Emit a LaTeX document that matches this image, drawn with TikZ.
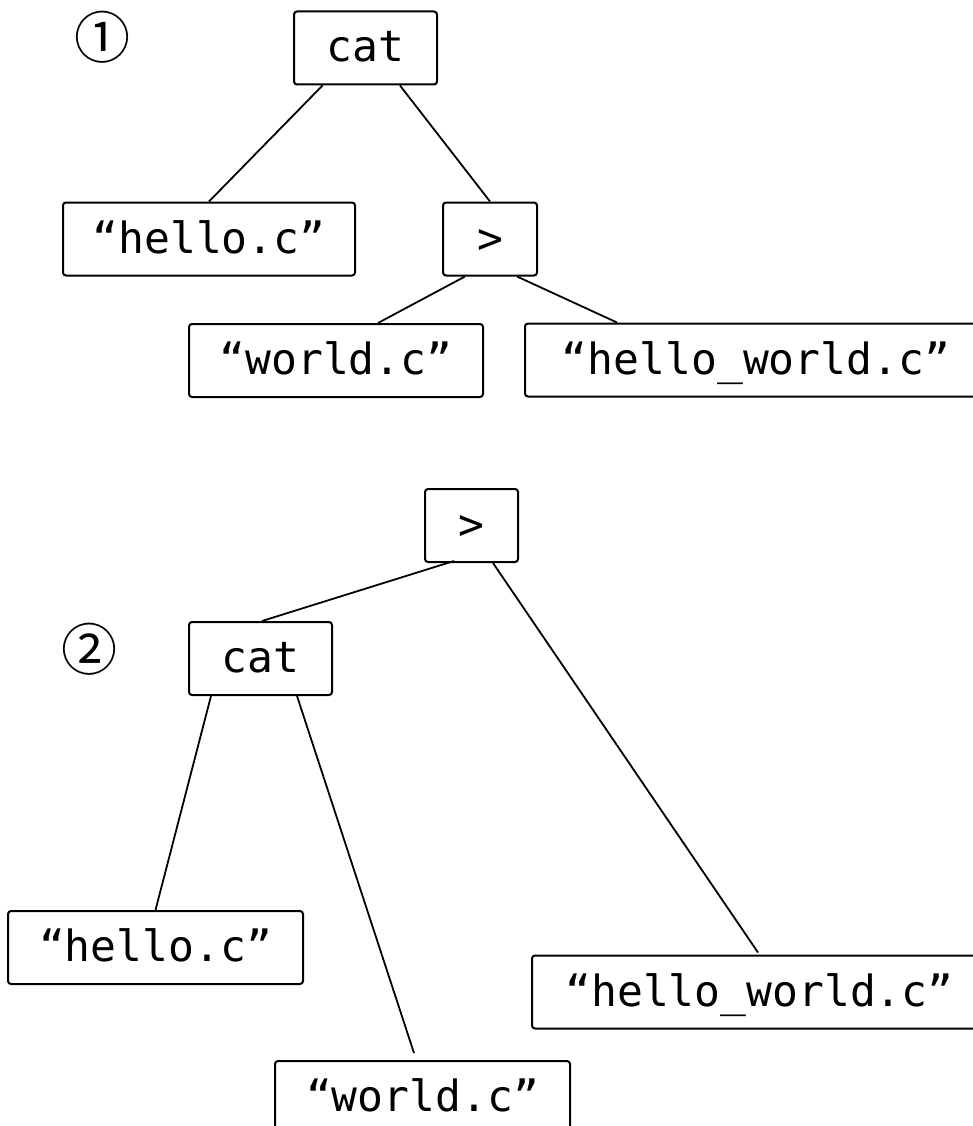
\documentclass[tikz,border=0pt]{standalone}
\usepackage{fontspec}
\usetikzlibrary{calc}
\newfontfamily\codefont{DejaVu Sans Mono}
\newfontfamily\markfont{Noto Sans CJK SC}

\tikzset{
  treebox/.style={draw, line width=2pt, rounded corners=3pt, inner sep=0pt,
    minimum height=73pt, text height=28pt, text depth=0pt,
    font=\codefont\fontsize{43}{50}\selectfont},
  edge/.style={line width=1.8pt},
  stepmark/.style={inner sep=0pt, font=\markfont\fontsize{56}{64}\selectfont}
}

\begin{document}
\begin{tikzpicture}[x=1pt, y=-1pt]
  \useasboundingbox (0,0) rectangle (973,1126);
  \clip (0,0) rectangle (973,1126);

  % first tree: cat "hello.c" > ...
  \node[stepmark] (m1) at (102,37) {①};
  \node[treebox, minimum width=143pt] (cat1)   at (365.5,48)  {cat};
  \node[treebox, minimum width=292pt] (hello1) at (209,239)   {“hello.c”};
  \node[treebox, minimum width=94pt]  (gt1)    at (490,239)   {>};
  \node[treebox, minimum width=294pt] (world1) at (336,360.5) {“world.c”};
  \node[treebox, minimum width=462pt] (hw1)    at (756,360)   {“hello\_world.c”};

  \draw[edge] ($(cat1.south)+(-43,0)$) -- (hello1.north);
  \draw[edge] ($(cat1.south)+(34.5,0)$) -- (gt1.north);
  \draw[edge] ($(gt1.south)+(-25,0)$) -- ($(world1.north)+(42,0)$);
  \draw[edge] ($(gt1.south)+(27,0)$) -- ($(hw1.north west)+(93,0)$);

  % second tree: > with cat below
  \node[stepmark] (m2) at (89.5,649) {②};
  \node[treebox, minimum width=93pt]  (gt2)    at (471.5,525.5) {>};
  \node[treebox, minimum width=143pt] (cat2)   at (260.5,658.5) {cat};
  \node[treebox, minimum width=295pt] (hello2) at (155.5,947.5) {“hello.c”};
  \node[treebox, minimum width=455pt] (hw2)    at (759.5,992)   {“hello\_world.c”};
  \node[treebox, minimum width=295pt] (world2) at (422.5,1097.5) {“world.c”};

  \draw[edge] ($(gt2.south)+(-17.5,-2)$) -- ($(cat2.north)+(1.5,0)$);
  \draw[edge] ($(gt2.south)+(21.5,0)$) -- ($(hw2.north west)+(227,-2)$);
  \draw[edge] ($(cat2.south)+(-49.5,0)$) -- (hello2.north);
  \draw[edge] ($(cat2.south)+(36.5,0)$) -- ($(world2.north)+(-8.5,-7)$);
\end{tikzpicture}
\end{document}
